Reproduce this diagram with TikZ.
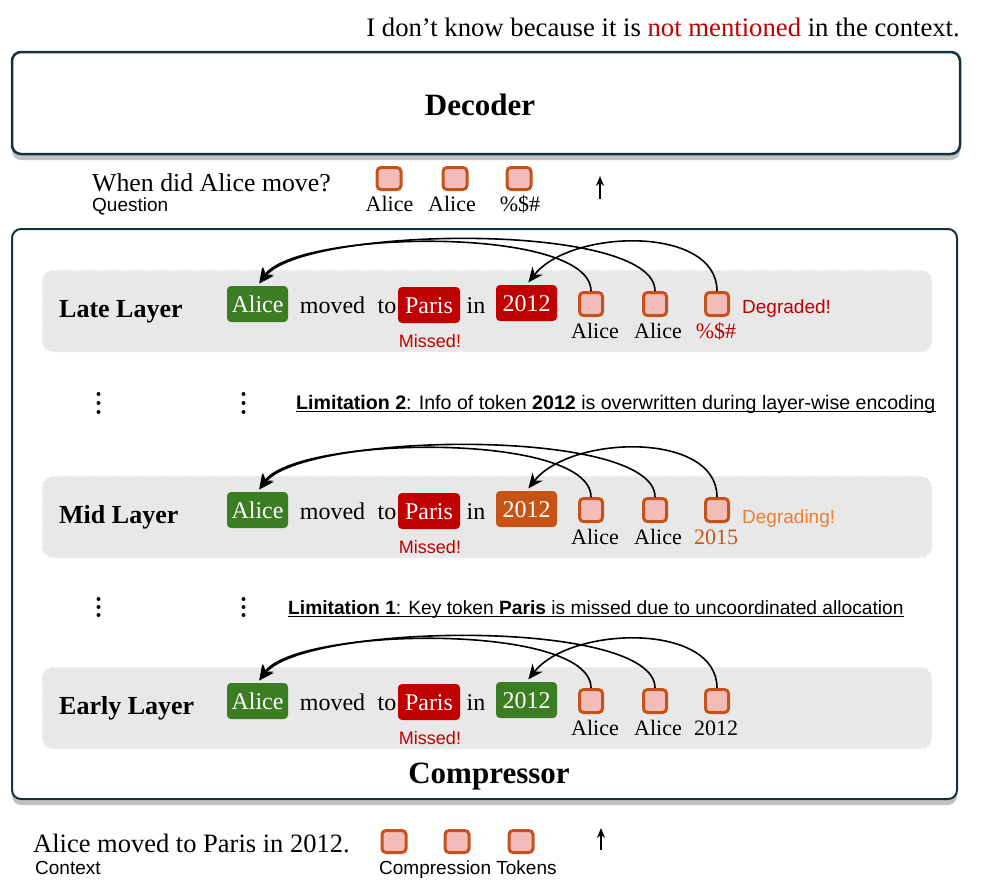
\documentclass[tikz,border=0pt]{standalone}
\usepackage{fontspec}
\setmainfont{Liberation Serif}
\newfontfamily\lsans{Liberation Sans}
\usetikzlibrary{arrows.meta,shadows}
\definecolor{navy}{RGB}{22,48,64}
\definecolor{bandgray}{RGB}{232,232,232}
\definecolor{kgreen}{RGB}{59,125,35}
\definecolor{kred}{RGB}{192,0,0}
\definecolor{korange}{RGB}{197,84,22}
\definecolor{tokfill}{RGB}{242,189,184}
\definecolor{tokdraw}{RGB}{197,82,27}
\definecolor{lorange}{RGB}{237,125,49}
\newcommand\fsz[1]{\fontsize{#1}{#1}\selectfont}
\tikzset{
  bigbox/.style={draw=navy, line width=2pt, rounded corners=9pt, fill=white,
    drop shadow={shadow xshift=0pt, shadow yshift=-6pt, fill=black!40, opacity=0.6}},
  bandbox/.style={draw=white, dashed, line width=1pt, fill=bandgray, rounded corners=11pt,
    minimum width=890pt, minimum height=82pt, inner sep=0pt},
  wbox/.style={rounded corners=4pt, text=white, font=\fsz{24}, minimum height=36pt,
    text height=16pt, text depth=0pt, inner xsep=0pt},
  rowtxt/.style={font=\fsz{24}, inner sep=0pt},
  layerlab/.style={font=\fsz{26}\bfseries, inner sep=0pt},
  tok/.style={draw=tokdraw, fill=tokfill, line width=3pt, rounded corners=4pt,
    minimum size=23pt, inner sep=0pt},
  toklab/.style={font=\fsz{22}, inner sep=0pt},
  smallsans/.style={font=\lsans\fsz{19}, inner sep=0pt},
  sentence/.style={font=\fsz{26.5}, inner sep=0pt},
  attn/.style={line width=1.6pt, -{Stealth[length=15pt,width=13pt]}, shorten >=3pt},
  uparrow/.style={line width=1.8pt, -{Stealth[length=10pt,width=8pt]}},
  dotc/.style={fill=black, circle, inner sep=0pt, minimum size=4pt},
}
\newcommand\mylayer[9]{%
\begin{scope}[shift={(0,#2)}]
  \node[bandbox] (#1band) at (487,311) {};
  \node[layerlab, anchor=base west] (#1lab) at (59,317) {#3};
  \node[wbox, fill=kgreen, minimum width=61pt] (#1alice) at (257.5,304) {Alice};
  \node[rowtxt, anchor=base] (#1moved) at (332.5,313) {moved};
  \node[rowtxt, anchor=base] (#1to) at (387,313) {to};
  \node[wbox, fill=kred, minimum width=62pt] (#1paris) at (429,305) {Paris};
  \node[rowtxt, anchor=base] (#1in) at (476,313) {in};
  \node[wbox, fill=#4, minimum width=61pt] (#1year) at (526.5,303) {2012};
  \node[tok] (#1ta) at (591,304) {};
  \node[tok] (#1tb) at (655,304) {};
  \node[tok] (#1tc) at (717,304) {};
  \node[toklab, anchor=base] (#1la) at (595,338) {Alice};
  \node[toklab, anchor=base] (#1lb) at (658,338) {Alice};
  \node[toklab, anchor=base, text=#6] (#1lc) at (716,338) {#5};
  \node[smallsans, font=\lsans\fsz{18}, text=kred, anchor=base] (#1miss) at (430,347) {Missed!};
  \node[smallsans, text=#8, anchor=base west] (#1status) at (742,#9) {#7};
  \draw[attn] (#1ta.north) .. controls +(0,-66) and +(38,-56) .. (#1alice.north);
  \draw[attn] (#1tb.north) .. controls +(0,-70) and +(48,-60) .. (#1alice.north);
  \draw[attn] (#1tc.north) .. controls +(0,-66) and +(44,-56) .. (#1year.north);
\end{scope}}
\begin{document}
\begin{tikzpicture}[x=1pt,y=-1pt]
\useasboundingbox (0,0) rectangle (996,892);
% answer
\node[sentence, font=\fsz{26.7}, anchor=base east] (answer) at (960,36)
  {I don’t know because it is \textcolor{kred}{not mentioned} in the context.};
% decoder
\node[bigbox, line width=2.5pt, minimum width=948pt, minimum height=102pt, inner sep=0pt] (dec) at (486,103) {};
\node[font=\fsz{31}\bfseries, anchor=base, inner sep=0pt] (dectxt) at (480,115) {Decoder};
% question row
\node[sentence, font=\fsz{25.8}, anchor=base west] (ques) at (92,191) {When did Alice move?};
\node[smallsans, anchor=base west] (queslab) at (92,211) {Question};
\node[tok, minimum width=24pt, minimum height=22pt] (qa) at (389,178.5) {};
\node[tok, minimum width=24pt, minimum height=22pt] (qb) at (455,178.5) {};
\node[tok, minimum width=24pt, minimum height=22pt] (qc) at (519,178.5) {};
\node[toklab, anchor=base] (qla) at (389.5,211) {Alice};
\node[toklab, anchor=base] (qlb) at (452,211) {Alice};
\node[toklab, anchor=base] (qlc) at (520,211) {\%\$\#};
\coordinate (qarrS) at (600,199);
\coordinate (qarrE) at (600,176);
\draw[uparrow] (qarrS) -- (qarrE);
% compressor
\node[bigbox, minimum width=945pt, minimum height=570pt, inner sep=0pt] (comp) at (484.5,514) {};
\node[font=\fsz{31}\bfseries, anchor=base, inner sep=0pt] (comptxt) at (489,783) {Compressor};
% layers
\mylayer{late}{0}{Late Layer}{kred}{\%\$\#}{kred}{Degraded!}{kred}{313}
\mylayer{mid}{206}{Mid Layer}{korange}{2015}{korange}{Degrading!}{lorange}{317}
\mylayer{early}{397}{Early Layer}{kgreen}{2012}{black}{}{black}{313}
% dots
\foreach \yy [count=\i] in {394,403,412} {
  \node[dotc] (da\i) at (98.5,\yy) {};
  \node[dotc] (db\i) at (243.5,\yy) {};
}
\foreach \yy [count=\i] in {599,607,615} {
  \node[dotc] (dc\i) at (98.5,\yy) {};
  \node[dotc] (dd\i) at (243.5,\yy) {};
}
% limitations
\node[smallsans, font=\lsans\fsz{19.6}, anchor=base west] (lim2) at (296,409)
  {\textbf{Limitation 2}: Info of token \textbf{2012} is overwritten during layer-wise encoding};
\draw[line width=0.9pt] ([yshift=-2.5pt]lim2.base west) -- ([yshift=-2.5pt]lim2.base east);
\node[smallsans, font=\lsans\fsz{19.2}, anchor=base west] (lim1) at (288,614)
  {\textbf{Limitation 1}: Key token \textbf{Paris} is missed due to uncoordinated allocation};
\draw[line width=0.9pt] ([yshift=-2.5pt]lim1.base west) -- ([yshift=-2.5pt]lim1.base east);
% context row
\node[sentence, anchor=base west] (ctx) at (33,852) {Alice moved to Paris in 2012.};
\node[smallsans, anchor=base west] (ctxlab) at (35,874) {Context};
\node[tok, minimum width=24pt, minimum height=22pt] (ca) at (394,841.5) {};
\node[tok, minimum width=24pt, minimum height=22pt] (cb) at (457,841.5) {};
\node[tok, minimum width=24pt, minimum height=22pt] (cc) at (521,841.5) {};
\node[smallsans, anchor=base west] (ctoklab) at (379,874) {Compression Tokens};
\coordinate (carrS) at (601,850);
\coordinate (carrE) at (601,828);
\draw[uparrow] (carrS) -- (carrE);
\end{tikzpicture}
\end{document}
